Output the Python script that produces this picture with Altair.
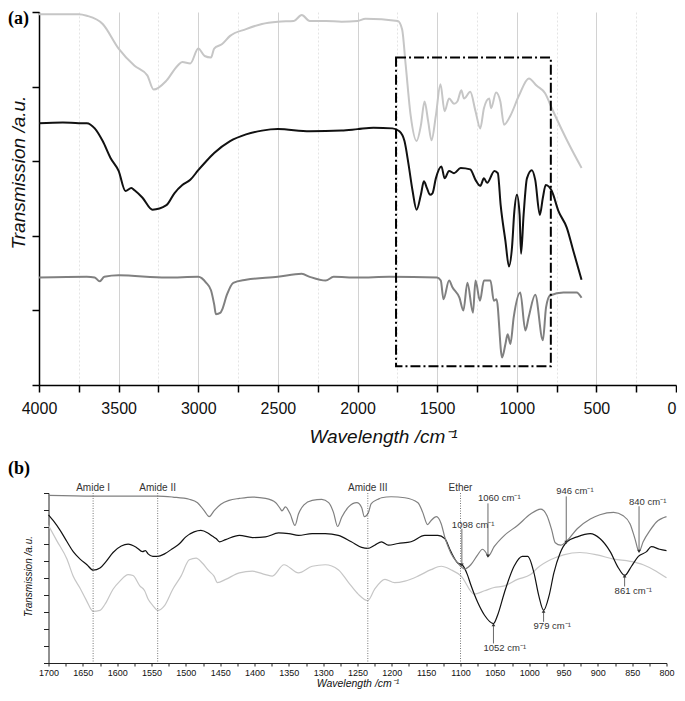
import altair as alt
import pandas as pd

# ---------------- Panel (a): full spectra ----------------
A_LIGHT_WN = [4000, 3750, 3700, 3600, 3500, 3400, 3320, 3280, 3200, 3130, 3100, 3050, 3000, 2960, 2920,
              2900, 2850, 2800, 2700, 2600, 2500, 2400, 2350, 2300, 2200, 2100, 2000, 1950, 1747, 1720,
              1697, 1666, 1629, 1602, 1579, 1556, 1535, 1508, 1479, 1453, 1425, 1394, 1373, 1348, 1331,
              1292, 1259, 1229, 1206, 1173, 1161, 1130, 1103, 1080, 1040, 986, 924, 874, 822, 780, 668, 593]
A_LIGHT_T = [4.97, 4.97, 4.95, 4.84, 4.51, 4.28, 4.15, 3.96, 4.08, 4.28, 4.33, 4.31, 4.51, 4.41, 4.39,
             4.51, 4.57, 4.68, 4.77, 4.84, 4.87, 4.88, 4.96, 4.88, 4.88, 4.87, 4.88, 4.91, 4.88, 4.77,
             4.28, 3.61, 3.27, 3.48, 3.80, 3.53, 3.28, 3.61, 4.03, 3.67, 3.84, 3.77, 3.80, 3.95, 3.84,
             3.93, 3.67, 3.44, 3.71, 3.84, 3.71, 3.92, 3.80, 3.49, 3.61, 3.88, 4.11, 4.01, 3.91, 3.71, 3.21, 2.91]

A_BLACK_WN = [4000, 3850, 3750, 3700, 3650, 3600, 3550, 3500, 3457, 3420, 3400, 3350, 3287, 3200, 3150,
              3100, 3050, 3000, 2950, 2900, 2800, 2700, 2600, 2500, 2300, 2100, 2000, 1900, 1780, 1737,
              1705, 1679, 1654, 1629, 1602, 1583, 1564, 1545, 1529, 1508, 1473, 1453, 1425, 1394, 1352,
              1292, 1259, 1229, 1206, 1186, 1140, 1119, 1101, 1071, 1049, 1030, 1015, 999, 982, 973,
              957, 936, 905, 884, 855, 836, 818, 780, 738, 686, 645, 593]
A_BLACK_T = [3.51, 3.52, 3.51, 3.51, 3.44, 3.27, 3.04, 2.87, 2.60, 2.64, 2.61, 2.51, 2.35, 2.41, 2.57,
             2.68, 2.75, 2.88, 3.00, 3.11, 3.27, 3.36, 3.41, 3.43, 3.40, 3.41, 3.43, 3.45, 3.44, 3.40,
             3.27, 2.95, 2.60, 2.35, 2.55, 2.73, 2.64, 2.55, 2.57, 2.77, 2.93, 2.77, 2.87, 2.84, 2.91,
             2.89, 2.75, 2.67, 2.77, 2.71, 2.87, 2.84, 2.41, 1.93, 1.59, 1.84, 2.33, 2.55, 2.28, 1.76,
             2.28, 2.77, 2.88, 2.75, 2.28, 2.51, 2.68, 2.60, 2.33, 2.11, 1.80, 1.41]

A_DARK_WN = [4000, 3700, 3650, 3619, 3590, 3500, 3200, 3000, 2950, 2920, 2900, 2889, 2860, 2850, 2820,
             2780, 2700, 2500, 2350, 2300, 2200, 2150, 2000, 1800, 1500, 1477, 1460, 1425, 1404, 1360,
             1335, 1310, 1275, 1259, 1231, 1206, 1165, 1144, 1127, 1092, 1071, 1057, 1040, 1019, 978,
             946, 925, 884, 836, 816, 791, 707, 624, 593]
A_DARK_T = [1.44, 1.45, 1.44, 1.39, 1.45, 1.47, 1.44, 1.45, 1.37, 1.27, 1.08, 0.95, 0.97, 1.01, 1.21,
            1.37, 1.41, 1.45, 1.49, 1.45, 1.40, 1.45, 1.44, 1.45, 1.44, 1.40, 1.15, 1.40, 1.31, 1.17,
            1.00, 1.37, 0.97, 1.40, 1.13, 1.40, 1.40, 1.13, 1.15, 0.37, 0.55, 0.68, 0.55, 0.91, 1.24,
            0.73, 0.91, 1.21, 0.60, 1.04, 1.20, 1.24, 1.24, 1.17]

BOX_WN = [1758, 786]
BOX_T = [4.39, 0.25]

# ---------------- Panel (b): 1700-800 cm-1 region ----------------
B_DARK_WN = [1700, 1635, 1541, 1519, 1495, 1483, 1473, 1466, 1459, 1449, 1437, 1422, 1403, 1384, 1369,
             1362, 1360, 1355, 1348, 1341, 1336, 1328, 1316, 1302, 1292, 1285, 1279, 1273, 1263, 1251,
             1244, 1240, 1234, 1230, 1220, 1215, 1201, 1181, 1162, 1155, 1148, 1143, 1135, 1128, 1123,
             1114, 1104, 1094, 1085, 1075, 1068, 1063, 1060, 1051, 1036, 1017, 998, 983, 974, 967,
             962, 954, 945, 930, 911, 897, 877, 863, 853, 846, 840, 834, 824, 815, 800]
B_DARK_T = [9.86, 9.82, 9.82, 9.76, 9.63, 9.43, 8.95, 8.61, 8.95, 9.34, 9.57, 9.68, 9.76, 9.68, 9.43,
            9.05, 8.95, 9.18, 8.76, 8.09, 8.76, 9.30, 9.57, 9.63, 9.43, 8.86, 8.03, 8.57, 9.18, 9.43,
            9.15, 8.61, 8.86, 9.38, 9.63, 9.72, 9.78, 9.72, 9.43, 8.86, 8.14, 8.37, 8.61, 8.18, 7.42,
            6.46, 5.88, 5.53, 5.78, 6.36, 6.69, 6.50, 6.27, 6.84, 7.51, 8.09, 8.76, 9.05, 8.66, 7.80,
            7.07, 6.93, 7.19, 7.90, 8.47, 8.72, 8.86, 8.66, 8.18, 7.32, 6.55, 7.13, 7.80, 8.28, 8.61]

B_BLACK_WN = [1700, 1693, 1683, 1673, 1664, 1654, 1644, 1635, 1625, 1616, 1606, 1594, 1584, 1572, 1563,
              1559, 1555, 1548, 1541, 1531, 1519, 1509, 1500, 1488, 1478, 1468, 1461, 1456, 1451, 1442,
              1422, 1403, 1384, 1365, 1350, 1336, 1316, 1297, 1278, 1259, 1244, 1235, 1225, 1215, 1205,
              1191, 1172, 1152, 1133, 1123, 1114, 1104, 1097, 1090, 1085, 1075, 1065, 1052, 1046, 1036,
              1022, 1010, 1002, 993, 986, 979, 971, 964, 955, 945, 930, 911, 897, 882, 870,
              861, 851, 841, 829, 822, 810, 800]
B_BLACK_T = [8.72, 8.37, 7.80, 7.13, 6.55, 6.11, 5.78, 5.46, 5.59, 5.98, 6.50, 6.88, 6.99, 6.80, 6.55,
             6.61, 6.42, 6.27, 6.27, 6.42, 6.74, 7.03, 7.42, 7.71, 7.80, 7.65, 7.45, 7.32, 7.13, 7.26,
             7.51, 7.38, 7.42, 7.65, 7.61, 7.51, 7.61, 7.61, 7.51, 7.13, 6.80, 6.74, 6.93, 7.13, 6.93,
             7.03, 7.13, 7.51, 7.51, 7.32, 6.55, 5.88, 5.75, 5.20, 4.60, 3.57, 2.81, 2.32, 2.81, 4.15,
             5.69, 6.27, 6.27, 5.30, 3.96, 3.10, 3.96, 5.30, 6.46, 7.13, 7.42, 7.61, 7.32, 6.55, 5.59,
             5.15, 5.69, 6.27, 6.55, 6.84, 6.69, 6.61]

B_LIGHT_WN = [1700, 1688, 1673, 1664, 1654, 1645, 1635, 1625, 1616, 1606, 1596, 1584, 1577, 1567, 1560,
              1555, 1548, 1541, 1531, 1519, 1507, 1495, 1485, 1476, 1466, 1459, 1454, 1442, 1422, 1403,
              1384, 1374, 1357, 1336, 1316, 1297, 1278, 1263, 1249, 1235, 1225, 1210, 1196, 1181, 1162,
              1143, 1128, 1114, 1099, 1080, 1065, 1051, 1036, 1017, 998, 988, 969, 950, 926, 901,
              877, 853, 834, 815, 800]
B_LIGHT_T = [8.09, 7.20, 6.10, 5.10, 4.40, 3.70, 3.04, 3.10, 3.57, 4.34, 4.82, 5.20, 5.15, 4.54, 4.25,
             3.76, 3.38, 3.10, 3.38, 4.34, 5.11, 6.07, 6.17, 5.88, 5.40, 5.11, 4.73, 4.92, 5.30, 5.40,
             5.20, 5.11, 5.78, 5.30, 5.69, 5.78, 5.49, 4.73, 4.05, 3.67, 4.34, 4.92, 4.73, 4.82, 5.11,
             5.49, 5.69, 5.49, 5.11, 4.05, 4.25, 4.44, 4.54, 4.92, 5.20, 5.59, 6.07, 6.36, 6.50, 6.36,
             6.11, 5.98, 5.78, 5.40, 5.01]

BAND_WN = [1635, 1541, 1235, 1100]
BAND_NAME = ["Amide I", "Amide II", "Amide III", "Ether"]

PEAK_WN = [1098, 1060, 946, 840, 1052, 979, 861]
PEAK_LABEL = ["1098 cm\u207b\u00b9", "1060 cm\u207b\u00b9", "946 cm\u207b\u00b9", "840 cm\u207b\u00b9",
              "1052 cm\u207b\u00b9", "979 cm\u207b\u00b9", "861 cm\u207b\u00b9"]
PEAK_TEXT_T = [8.13, 9.68, 10.09, 9.45, 0.86, 2.19, 4.21]
PEAK_FROM_T = [7.90, 9.39, 9.80, 9.22, 1.15, 2.42, 4.50]
PEAK_TO_T = [5.76, 6.28, 7.09, 6.57, 2.25, 3.05, 5.13]

SERIES = ["light", "black", "dark"]
COLORS_A = ["#c6c6c6", "#111111", "#808080"]
COLORS_B = ["#bdbdbd", "#111111", "#777777"]
FONT = "Liberation Sans"
WA, HA = 637, 373
WB, HB = 618, 170


def series(wn, t, name):
    return pd.DataFrame({"wn": wn, "t": t, "s": name})


a_df = pd.concat([series(A_LIGHT_WN, A_LIGHT_T, "light"),
                  series(A_BLACK_WN, A_BLACK_T, "black"),
                  series(A_DARK_WN, A_DARK_T, "dark")], ignore_index=True)
b_df = pd.concat([series(B_LIGHT_WN, B_LIGHT_T, "light"),
                  series(B_BLACK_WN, B_BLACK_T, "black"),
                  series(B_DARK_WN, B_DARK_T, "dark")], ignore_index=True)

TITLE_X = "Wavelength /cm\u207b\u00b9"
TITLE_Y = "Transmission /a.u."


def xa(field):
    return alt.X(field, type="quantitative", scale=alt.Scale(domain=[4000, 0], nice=False, zero=False),
                 axis=alt.Axis(values=list(range(0, 4001, 250)), format="d", labelFlush=False,
                               labelExpr="datum.value % 500 == 0 ? datum.label : ''",
                               labelAlign={"condition": {"test": "datum.value == 0", "value": "right"},
                                           "value": "center"},
                               labelFontSize=16, labelPadding=8, tickSize=7, tickColor="black",
                               domainColor="black", domainWidth=1.5, tickWidth=1.5,
                               title=TITLE_X, titleFontSize=19, titleFontStyle="italic",
                               titleFontWeight="normal", titlePadding=11, titleX=344, grid=True,
                               gridColor={"condition": {"test": "datum.value % 500 != 0", "value": "#e4e4e4"},
                                          "value": "#d2d2d2"},
                               gridDash={"condition": {"test": "datum.value % 500 != 0", "value": [2, 2]},
                                         "value": []},
                               gridOpacity={"condition": {"test": "datum.value == 0 || datum.value == 4000",
                                                          "value": 0}, "value": 1}))


def ya(field):
    return alt.Y(field, type="quantitative", scale=alt.Scale(domain=[0, 5], nice=False),
                 axis=alt.Axis(values=[0, 1, 2, 3, 4, 5], labels=False, tickSize=7, tickColor="black",
                               domainColor="black", domainWidth=1.5, tickWidth=1.5, grid=False,
                               title=TITLE_Y, titleFontSize=19, titleFontStyle="italic",
                               titleFontWeight="normal", titlePadding=3, titleY=160))


lines_a = alt.Chart(a_df).mark_line(strokeWidth=2, interpolate="monotone").encode(
    x=xa("wn"), y=ya("t"),
    color=alt.Color("s:N", scale=alt.Scale(domain=SERIES, range=COLORS_A), legend=None))

box_df = pd.DataFrame({"x1": [BOX_WN[0]], "x2": [BOX_WN[1]], "y1": [BOX_T[0]], "y2": [BOX_T[1]]})
box = alt.Chart(box_df).mark_rect(filled=False, stroke="black", strokeWidth=2,
                                  strokeDash=[10, 3, 2, 3]).encode(
    x=xa("x1"), x2="x2", y=ya("y1"), y2="y2")

lab_a = alt.Chart(pd.DataFrame({"l": ["(a)"]})).mark_text(
    align="left", baseline="top", font="Liberation Serif", fontSize=18, fontWeight="bold").encode(
    text="l:N", x=alt.value(-31), y=alt.value(-2))

panel_a = alt.layer(lines_a, box, lab_a).properties(width=WA, height=HA)


def xb(field):
    return alt.X(field, type="quantitative", scale=alt.Scale(domain=[1700, 800], nice=False, zero=False),
                 axis=alt.Axis(values=list(range(800, 1701, 25)), format="d", labelFlush=False,
                               labelExpr="datum.value % 50 == 0 ? datum.label : ''",
                               labelFontSize=9, labelPadding=2, tickSize=3, tickColor="#222",
                               domainColor="#222", grid=False,
                               title=TITLE_X, titleFontSize=10.5, titleFontStyle="italic",
                               titleFontWeight="normal", titlePadding=1))


def yb(field):
    return alt.Y(field, type="quantitative", scale=alt.Scale(domain=[0, 10], nice=False),
                 axis=alt.Axis(values=list(range(0, 11)), labels=False, tickSize=5, tickColor="#222",
                               domainColor="#222", grid=False,
                               title=TITLE_Y, titleFontSize=10, titleFontStyle="italic",
                               titleFontWeight="normal", titlePadding=10, titleY=83))


lines_b = alt.Chart(b_df).mark_line(strokeWidth=1.2, interpolate="monotone").encode(
    x=xb("wn"), y=yb("t"),
    color=alt.Color("s:N", scale=alt.Scale(domain=SERIES, range=COLORS_B), legend=None))

band_df = pd.DataFrame({"wn": BAND_WN, "name": BAND_NAME})
band_rules = alt.Chart(band_df).mark_rule(color="#555", strokeWidth=0.8, strokeDash=[1, 1.5]).encode(
    x=xb("wn"), y=alt.value(0), y2=alt.value(HB))
band_text = alt.Chart(band_df).mark_text(fontSize=10, baseline="bottom", font=FONT, color="#333").encode(
    x=xb("wn"), y=alt.value(0), text="name:N")

peak_df = pd.DataFrame({"wn": PEAK_WN, "label": PEAK_LABEL, "ty": PEAK_TEXT_T,
                        "y0": PEAK_FROM_T, "y1": PEAK_TO_T})
peak_df["dir"] = ["triangle-down" if f > t else "triangle-up" for f, t in zip(PEAK_FROM_T, PEAK_TO_T)]
peak_rules = alt.Chart(peak_df).mark_rule(color="#444", strokeWidth=0.8).encode(
    x=xb("wn"), y=yb("y0"), y2="y1")
peak_heads = alt.Chart(peak_df).mark_point(filled=True, size=14, color="#333", opacity=1).encode(
    x=xb("wn"), y=yb("y1"), shape=alt.Shape("dir:N", scale=None))
peak_text = alt.Chart(peak_df).mark_text(fontSize=9.5, align="left", baseline="middle", dx=-10,
                                         font=FONT, color="#333").encode(
    x=xb("wn"), y=yb("ty"), text="label:N")

lab_b = alt.Chart(pd.DataFrame({"l": ["(b)"]})).mark_text(
    align="left", baseline="top", font="Liberation Serif", fontSize=18, fontWeight="bold").encode(
    text="l:N", x=alt.value(-40.5), y=alt.value(-33))

panel_b = alt.layer(lines_b, band_rules, band_text, peak_rules, peak_heads, peak_text, lab_b).properties(
    width=WB, height=HB)

chart = alt.vconcat(panel_a, panel_b, spacing=108, bounds="flush", center=True).properties(
    padding={"left": 0, "top": 2, "right": 0, "bottom": 0}
).configure_view(stroke=None).configure_axis(
    labelFont=FONT, titleFont=FONT, labelColor="#111", titleColor="#111"
).configure_text(font=FONT)

chart.save("out.html", embed_options={"renderer": "svg", "actions": False})
